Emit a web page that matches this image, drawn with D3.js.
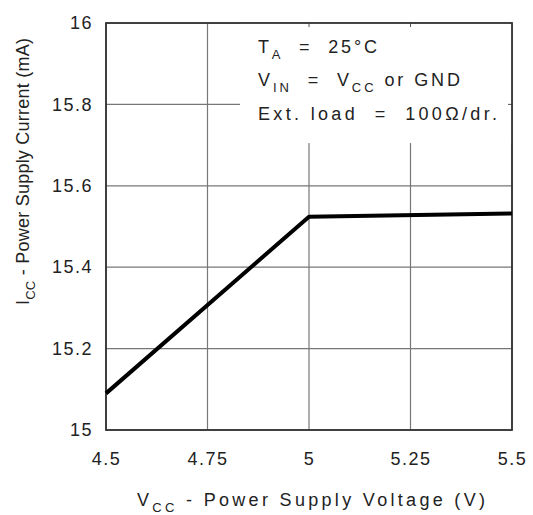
<!DOCTYPE html>
<html>
<head>
<meta charset="utf-8">
<script src="https://cdn.jsdelivr.net/npm/d3@7"></script>
<style>
  body { margin: 0; background: #fff; }
  text { font-family: "Liberation Sans", Arial, sans-serif; fill: #222; }
</style>
</head>
<body>
<script>
// supply current vs supply voltage
var voltage = [4.5, 5, 5.5];
var current = [15.09, 15.524, 15.532];
var xTicks = [4.5, 4.75, 5, 5.25, 5.5];
var yTicks = [15, 15.2, 15.4, 15.6, 15.8, 16];

var W = 533, H = 515;
var margin = {top: 23, right: 21, bottom: 85, left: 106},
    width = W - margin.left - margin.right,
    height = H - margin.top - margin.bottom;

var svg = d3.select("body").append("svg")
    .attr("width", W)
    .attr("height", H);

var g = svg.append("g")
    .attr("transform", "translate(" + margin.left + "," + margin.top + ")");

var x = d3.scaleLinear().domain([4.5, 5.5]).range([0, width]);
var y = d3.scaleLinear().domain([15, 16]).range([height, 0]);

// grid
g.selectAll(".vgrid")
  .data(xTicks)
  .enter().append("line")
    .attr("x1", function(d) { return x(d); })
    .attr("x2", function(d) { return x(d); })
    .attr("y1", 0)
    .attr("y2", height)
    .attr("stroke", "#777")
    .attr("stroke-width", 1.2);

g.selectAll(".hgrid")
  .data(yTicks)
  .enter().append("line")
    .attr("x1", 0)
    .attr("x2", width)
    .attr("y1", function(d) { return y(d); })
    .attr("y2", function(d) { return y(d); })
    .attr("stroke", "#777")
    .attr("stroke-width", 1.2);

// legend box hides the grid behind the notes
g.append("rect")
    .attr("x", 134)
    .attr("y", 0)
    .attr("width", width - 134)
    .attr("height", y(15.7) - 2)
    .attr("fill", "#fff");

// little inward ticks left on the frame
g.selectAll(".ttick")
  .data([5, 5.25])
  .enter().append("line")
    .attr("x1", function(d) { return x(d); })
    .attr("x2", function(d) { return x(d); })
    .attr("y1", 0).attr("y2", 4)
    .attr("stroke", "#555");
g.append("line")
    .attr("x1", width - 4).attr("x2", width)
    .attr("y1", y(15.8)).attr("y2", y(15.8))
    .attr("stroke", "#555");

// frame
g.append("rect")
    .attr("width", width)
    .attr("height", height)
    .attr("fill", "none")
    .attr("stroke", "#333")
    .attr("stroke-width", 1.8);

// axes (labels only)
g.append("g")
    .attr("transform", "translate(0," + height + ")")
    .call(d3.axisBottom(x).tickValues(xTicks).tickSize(0).tickPadding(22)
      .tickFormat(function(d) { return String(d); }));
g.append("g")
    .call(d3.axisLeft(y).tickValues(yTicks).tickSize(0).tickPadding(13)
      .tickFormat(function(d) { return String(d); }));
svg.selectAll(".domain").remove();
svg.selectAll(".tick text")
    .style("font-family", "'Liberation Sans', Arial, sans-serif")
    .style("font-size", "18px")
    .style("letter-spacing", "1.5px")
    .attr("fill", "#222");

// data line
var line = d3.line()
    .x(function(d, i) { return x(voltage[i]); })
    .y(function(d) { return y(d); });

g.append("path")
    .datum(current)
    .attr("d", line)
    .attr("fill", "none")
    .attr("stroke", "#000")
    .attr("stroke-width", 4)
    .attr("stroke-linejoin", "round");

// helper: text with subscripts, stretched to a given width
function subText(sel, parts, len) {
  var t = sel.append("text")
      .style("font-size", "18px")
      .style("white-space", "pre")
      .attr("lengthAdjust", "spacing")
      .attr("textLength", len);
  parts.forEach(function(p) {
    if (p.sub) {
      t.append("tspan").attr("dy", 6).style("font-size", "13px").text(p.sub);
    } else {
      t.append("tspan").attr("dy", p.after ? -6 : 0).text(p.t);
    }
  });
  return t;
}

// notes
var notes = g.append("g")
    .attr("transform", "translate(" + (258 - margin.left) + ",0)");

subText(notes, [{t: "T"}, {sub: "A"}, {t: "  =  25°C", after: true}], 119).attr("y", 30);
subText(notes, [{t: "V"}, {sub: "IN"}, {t: "  =  V", after: true}, {sub: "CC"},
  {t: " or GND", after: true}], 202).attr("y", 63);
subText(notes, [{t: "Ext. load  =  100\u03A9/dr."}], 239).attr("y", 97);

// axis titles
subText(svg, [{t: "V"}, {sub: "CC"}, {t: " - Power Supply Voltage (V)", after: true}], 348)
    .attr("x", 137)
    .attr("y", 506);

subText(svg, [{t: "I"}, {sub: "CC"}, {t: " - Power Supply Current (mA)", after: true}], 267)
    .attr("transform", "translate(29,305) rotate(-90)");
</script>
</body>
</html>
